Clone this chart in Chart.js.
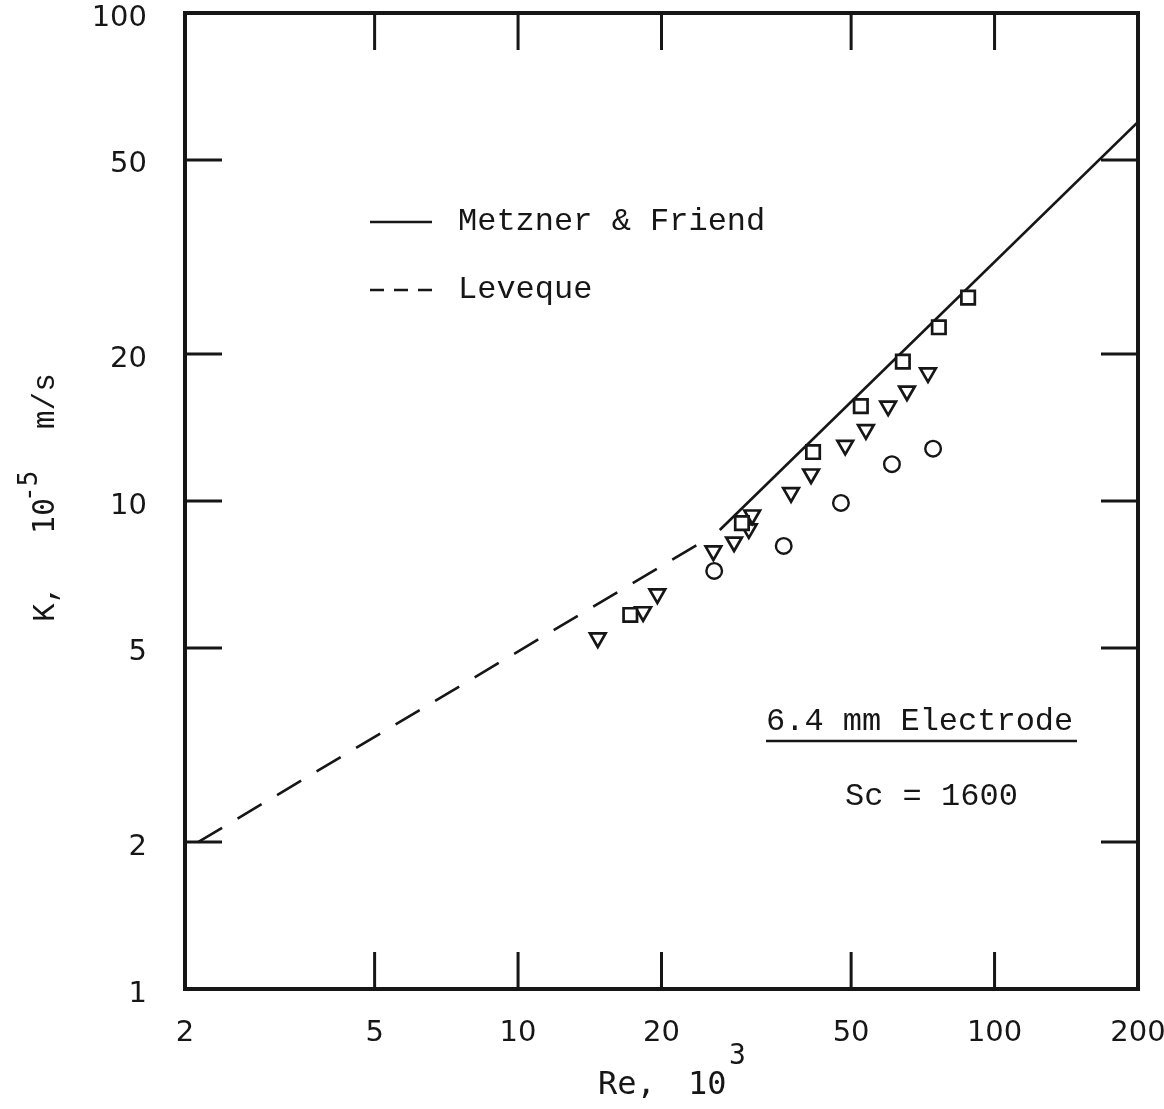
<!DOCTYPE html>
<html>
<head>
<meta charset="utf-8">
<title>K vs Re</title>
<script src="https://cdn.jsdelivr.net/npm/chart.js@4.4.1/dist/chart.umd.min.js"></script>
<style>
  html, body { margin: 0; padding: 0; background: #fff; }
  #wrap { width: 1164px; height: 1109px; }
</style>
</head>
<body>
<div id="wrap"><canvas id="kChart" width="1164" height="1109"></canvas></div>
<script>
// tick values on both log axes
const reTicks = [2, 5, 10, 20, 50, 100, 200];
const kTicks = [1, 2, 5, 10, 20, 50, 100];

// correlation lines (end points)
const metznerRe = [26.5, 200];
const metznerK = [8.72, 59.8];
const levequeRe = [2.13, 24.7];
const levequeK = [2.0, 8.32];

// measured points, squares
const squareRe = [17.2, 29.5, 41.6, 52.4, 64.2, 76.4, 88.0];
const squareK = [5.84, 9.01, 12.6, 15.65, 19.3, 22.7, 26.1];

// measured points, triangles
const triRe = [14.7, 18.3, 19.6, 25.7, 28.4, 30.5, 31.0, 37.4, 41.2, 48.6, 53.7, 59.8, 65.5, 72.5];
const triK = [5.24, 5.93, 6.45, 7.90, 8.24, 8.77, 9.36, 10.4, 11.36, 13.0, 14.0, 15.65, 16.8, 18.3];

// measured points, circles
const circleRe = [25.8, 36.1, 47.6, 60.9, 74.3];
const circleK = [7.19, 8.09, 9.91, 11.9, 12.8];

const ink = '#161616';

function toPoints(xs, ys) {
  return xs.map((x, i) => ({ x: x, y: ys[i] }));
}

// frame, inward tick marks, legend, notes and axis titles
const decorations = {
  id: 'decorations',
  afterDraw(chart) {
    const ctx = chart.ctx;
    const a = chart.chartArea;
    const xs = chart.scales.x;
    const ys = chart.scales.y;
    const tickLen = 37;

    ctx.save();
    ctx.strokeStyle = ink;
    ctx.fillStyle = ink;

    // tick marks on all four sides
    ctx.lineWidth = 3;
    ctx.beginPath();
    reTicks.slice(1, -1).forEach(v => {
      const px = xs.getPixelForValue(v);
      ctx.moveTo(px, a.bottom); ctx.lineTo(px, a.bottom - tickLen);
      ctx.moveTo(px, a.top); ctx.lineTo(px, a.top + tickLen);
    });
    kTicks.slice(1, -1).forEach(v => {
      const py = ys.getPixelForValue(v);
      ctx.moveTo(a.left, py); ctx.lineTo(a.left + tickLen, py);
      ctx.moveTo(a.right, py); ctx.lineTo(a.right - tickLen, py);
    });
    ctx.stroke();

    // frame
    ctx.lineWidth = 4;
    ctx.strokeRect(a.left, a.top, a.right - a.left, a.bottom - a.top);

    // legend
    ctx.font = '32px "Liberation Mono"';
    ctx.textBaseline = 'middle';
    ctx.lineWidth = 2.5;
    ctx.beginPath();
    ctx.moveTo(370, 222); ctx.lineTo(432, 222);
    ctx.stroke();
    ctx.fillText('Metzner & Friend', 458, 222);
    ctx.setLineDash([14, 10]);
    ctx.beginPath();
    ctx.moveTo(370, 290); ctx.lineTo(432, 290);
    ctx.stroke();
    ctx.setLineDash([]);
    ctx.fillText('Leveque', 458, 290);

    // notes
    ctx.fillText('6.4 mm Electrode', 766, 722);
    ctx.beginPath();
    ctx.moveTo(766, 741); ctx.lineTo(1077, 741);
    ctx.stroke();
    ctx.fillText('Sc = 1600', 845, 797);

    // x title: Re, 10^3
    ctx.textBaseline = 'alphabetic';
    ctx.font = '32px "DejaVu Sans Mono"';
    ctx.fillText('Re,', 598, 1094);
    ctx.fillText('10', 688, 1094);
    ctx.font = '28px "DejaVu Sans Mono"';
    ctx.fillText('3', 729, 1064);

    // y title: K, 10^-5 m/s (rotated)
    ctx.translate(54, 622);
    ctx.rotate(-Math.PI / 2);
    ctx.font = '31px "Liberation Mono"';
    ctx.fillText('K,', 0, 0);
    ctx.font = '30px "DejaVu Sans Mono"';
    ctx.fillText('10', 88, 0);
    ctx.font = '26px "DejaVu Sans Mono"';
    ctx.fillText('-5', 120, -17);
    ctx.font = '31px "Liberation Mono"';
    ctx.fillText('m/s', 193, 0);
    ctx.restore();
  }
};

const ctxK = document.getElementById('kChart').getContext('2d');

const kChart = new Chart(ctxK, {
  type: 'scatter',
  data: {
    datasets: [
      {
        label: 'Metzner & Friend',
        data: toPoints(metznerRe, metznerK),
        showLine: true,
        borderColor: ink,
        borderWidth: 2.6,
        pointRadius: 0,
        order: 3
      },
      {
        label: 'Leveque',
        data: toPoints(levequeRe, levequeK),
        showLine: true,
        borderColor: ink,
        borderWidth: 2.6,
        borderDash: [28, 18],
        pointRadius: 0,
        order: 3
      },
      {
        label: 'squares',
        data: toPoints(squareRe, squareK),
        pointStyle: 'rect',
        pointRadius: 9.5,
        borderColor: ink,
        backgroundColor: '#fff',
        borderWidth: 2.7,
        order: 1
      },
      {
        label: 'triangles',
        data: toPoints(triRe, triK),
        pointStyle: 'triangle',
        rotation: 180,
        pointRadius: 9,
        borderColor: ink,
        backgroundColor: '#fff',
        borderWidth: 2.7,
        order: 2
      },
      {
        label: 'circles',
        data: toPoints(circleRe, circleK),
        pointStyle: 'circle',
        pointRadius: 7.8,
        borderColor: ink,
        backgroundColor: '#fff',
        borderWidth: 2.4,
        order: 1
      }
    ]
  },
  options: {
    responsive: false,
    animation: false,
    devicePixelRatio: 1,
    layout: { padding: { top: 13, right: 26, left: 0, bottom: 0 } },
    plugins: {
      legend: { display: false },
      tooltip: { enabled: false }
    },
    scales: {
      x: {
        type: 'logarithmic',
        min: 2,
        max: 200,
        afterBuildTicks: scale => { scale.ticks = reTicks.map(v => ({ value: v })); },
        afterFit: scale => {
          scale.height = 120;
          scale.paddingLeft = 0;
          scale.paddingRight = 0;
        },
        grid: { display: false, tickLength: 0 },
        border: { display: false },
        ticks: {
          autoSkip: false,
          maxRotation: 0,
          padding: 27,
          color: ink,
          font: { family: 'DejaVu Sans', size: 29 },
          callback: v => String(v)
        }
      },
      y: {
        type: 'logarithmic',
        min: 1,
        max: 100,
        afterBuildTicks: scale => { scale.ticks = kTicks.map(v => ({ value: v })); },
        afterFit: scale => {
          scale.width = 185;
          scale.paddingTop = 0;
          scale.paddingBottom = 0;
        },
        grid: { display: false, tickLength: 0 },
        border: { display: false },
        ticks: {
          autoSkip: false,
          padding: 38,
          labelOffset: 5,
          color: ink,
          font: { family: 'DejaVu Sans', size: 29 },
          callback: v => String(v)
        }
      }
    }
  },
  plugins: [decorations]
});
</script>
</body>
</html>
